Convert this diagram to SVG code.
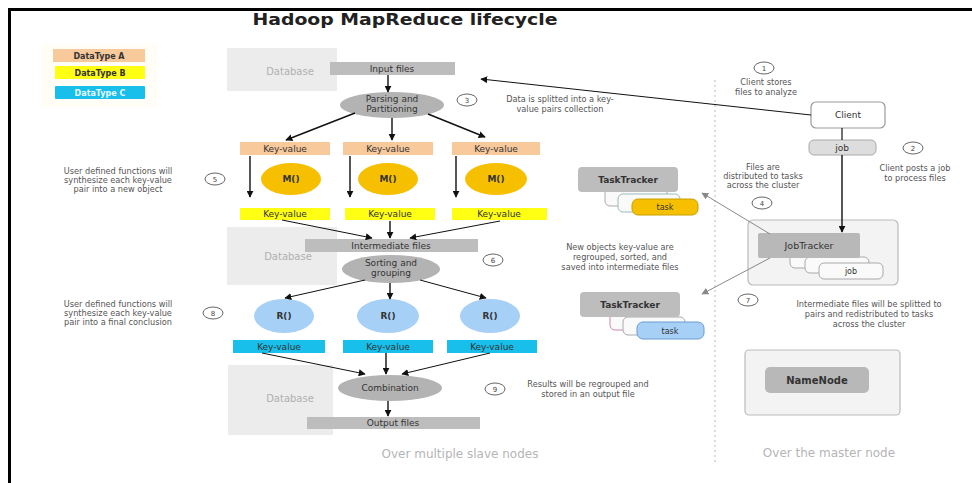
<svg xmlns="http://www.w3.org/2000/svg" width="972" height="483" viewBox="0 0 972 483">
<defs>
<marker id="ah" viewBox="0 0 10 10" refX="9" refY="5" markerWidth="7" markerHeight="7" markerUnits="userSpaceOnUse" orient="auto"><path d="M0,0 L10,5 L0,10 z" fill="#111"/></marker>
<marker id="ahg" viewBox="0 0 10 10" refX="9" refY="5" markerWidth="7" markerHeight="7" markerUnits="userSpaceOnUse" orient="auto"><path d="M0,0 L10,5 L0,10 z" fill="#888"/></marker>
</defs>
<style>
text{font-family:"DejaVu Sans","Liberation Sans",sans-serif;font-size:9px;fill:#333;text-anchor:middle}
.t{font-size:8.2px;fill:#555}
.n{font-size:7px;fill:#444}
.db{fill:#ececec}
.dbt{fill:#b0b0b0;font-size:10px}
.bar{fill:#bdbdbd}
.ell{fill:#b3b3b3}
.pk{fill:#f7c99b}
.yl{fill:#ffff14}
.cy{fill:#18bfea}
.m{fill:#f6c000}
.r{fill:#a7d0f7}
.b{font-weight:bold}
.num{fill:none;stroke:#666;stroke-width:1}
.ln{stroke:#111;stroke-width:1.4;fill:none;marker-end:url(#ah)}
.lt{stroke:#111;stroke-width:1;fill:none;marker-end:url(#ah)}
.lg{stroke:#888;stroke-width:1;fill:none;marker-end:url(#ahg)}
.card{fill:#fafafa;stroke:#aaa;stroke-width:1}
.note{fill:#b5b5b5;font-size:12px}
</style>
<rect width="972" height="483" fill="#fff"/>
<path d="M9.5,483 V9.5 H972" fill="none" stroke="#000" stroke-width="3"/>
<text x="405" y="25" style="font-weight:bold;font-size:16px;fill:#222" textLength="305" lengthAdjust="spacingAndGlyphs">Hadoop MapReduce lifecycle</text>

<g id="legend">
<rect x="42" y="44" width="115" height="63" fill="#fffdf6"/>
<rect x="53" y="49" width="92" height="13" class="pk"/><text x="99" y="58.5" class="b" style="font-size:8px">DataType A</text>
<rect x="55" y="66" width="90" height="13" class="yl"/><text x="100" y="75.5" class="b" style="font-size:8px">DataType B</text>
<rect x="55" y="86" width="90" height="13" class="cy" rx="1"/><text x="100" y="95.5" class="b" style="font-size:8px;fill:#e8f8ff">DataType C</text>
</g>

<g id="db1"><rect x="227" y="48" width="110" height="43" class="db"/><text x="290" y="75" class="dbt">Database</text></g>
<g id="db2"><rect x="227" y="227" width="110" height="58" class="db"/><text x="288" y="260" class="dbt">Database</text></g>
<g id="db3"><rect x="228" y="365" width="105" height="70" class="db"/><text x="290" y="402" class="dbt">Database</text></g>

<g id="input"><rect x="330" y="62" width="125" height="13" class="bar"/><text x="392" y="71.5">Input files</text></g>
<g id="parsing"><ellipse cx="392" cy="105" rx="52" ry="13" class="ell"/><text x="392" y="102">Parsing and</text><text x="392" y="112">Partitioning</text></g>

<g id="kvA1"><rect x="240" y="142" width="90" height="13" class="pk"/><text x="285" y="151.5">Key-value</text></g>
<g id="kvA2"><rect x="343" y="142" width="90" height="13" class="pk"/><text x="388" y="151.5">Key-value</text></g>
<g id="kvA3"><rect x="452" y="142" width="88" height="13" class="pk"/><text x="496" y="151.5">Key-value</text></g>

<g id="m1"><ellipse cx="291" cy="179" rx="30" ry="16" class="m"/><text x="291" y="182" class="b">M()</text></g>
<g id="m2"><ellipse cx="388" cy="179" rx="30" ry="16" class="m"/><text x="388" y="182" class="b">M()</text></g>
<g id="m3"><ellipse cx="496" cy="179" rx="31" ry="16" class="m"/><text x="496" y="182" class="b">M()</text></g>

<g id="kvB1"><rect x="240" y="208" width="90" height="12" class="yl"/><text x="285" y="217">Key-value</text></g>
<g id="kvB2"><rect x="345" y="208" width="90" height="12" class="yl"/><text x="390" y="217">Key-value</text></g>
<g id="kvB3"><rect x="452" y="208" width="95" height="12" class="yl"/><text x="499" y="217">Key-value</text></g>

<g id="intermediate"><rect x="305" y="239" width="173" height="13" class="bar"/><text x="391" y="248.5">Intermediate files</text></g>
<g id="sorting"><ellipse cx="391" cy="269" rx="49" ry="14" class="ell"/><text x="391" y="266">Sorting and</text><text x="391" y="276">grouping</text></g>

<g id="r1"><ellipse cx="284" cy="316" rx="30" ry="17" class="r"/><text x="284" y="319" class="b">R()</text></g>
<g id="r2"><ellipse cx="388" cy="316" rx="31" ry="17" class="r"/><text x="388" y="319" class="b">R()</text></g>
<g id="r3"><ellipse cx="490" cy="316" rx="30" ry="17" class="r"/><text x="490" y="319" class="b">R()</text></g>

<g id="kvC1"><rect x="233" y="340" width="92" height="13" class="cy"/><text x="279" y="349.5">Key-value</text></g>
<g id="kvC2"><rect x="343" y="340" width="90" height="13" class="cy"/><text x="388" y="349.5">Key-value</text></g>
<g id="kvC3"><rect x="447" y="340" width="90" height="13" class="cy"/><text x="492" y="349.5">Key-value</text></g>

<g id="combination"><ellipse cx="390" cy="388" rx="52" ry="13" class="ell"/><text x="390" y="391">Combination</text></g>
<g id="output"><rect x="307" y="417" width="173" height="12" class="bar"/><text x="393" y="426">Output files</text></g>

<g id="step3"><ellipse cx="467" cy="100" rx="10" ry="6" class="num"/><text x="467" y="102.5" class="n">3</text><text x="560" y="102" class="t">Data is splitted into a key-</text><text x="560" y="112" class="t">value pairs collection</text></g>
<g id="step5"><ellipse cx="215" cy="179" rx="10" ry="6" class="num"/><text x="215" y="181.5" class="n">5</text><text x="118" y="174" class="t">User defined functions will</text><text x="118" y="183" class="t">synthesize each key-value</text><text x="118" y="192" class="t">pair into a new object</text></g>
<g id="step6"><ellipse cx="493" cy="260" rx="10" ry="6" class="num"/><text x="493" y="262.5" class="n">6</text><text x="620" y="250" class="t">New objects key-value are</text><text x="620" y="260" class="t">regrouped, sorted, and</text><text x="620" y="270" class="t">saved into intermediate files</text></g>
<g id="step8"><ellipse cx="213" cy="313" rx="10" ry="6" class="num"/><text x="213" y="315.5" class="n">8</text><text x="118" y="307" class="t">User defined functions will</text><text x="118" y="316" class="t">synthesize each key-value</text><text x="118" y="325" class="t">pair into a final conclusion</text></g>
<g id="step9"><ellipse cx="495" cy="389" rx="10" ry="6" class="num"/><text x="495" y="391.5" class="n">9</text><text x="588" y="387" class="t">Results will be regrouped and</text><text x="588" y="397" class="t">stored in an output file</text></g>

<line x1="715" y1="80" x2="715" y2="462" stroke="#bbb" stroke-width="1" stroke-dasharray="2,3"/>

<g id="step1"><ellipse cx="764" cy="68" rx="10" ry="6" class="num"/><text x="764" y="70.5" class="n">1</text><text x="766" y="85" class="t">Client stores</text><text x="766" y="95" class="t">files to analyze</text></g>
<g id="client"><rect x="811" y="102" width="74" height="26" rx="5" fill="#fff" stroke="#999" stroke-width="1.2"/><text x="848" y="118">Client</text></g>
<g id="job"><rect x="809" y="140" width="67" height="15" rx="5" fill="#ddd" stroke="#aaa"/><text x="842" y="150.5">job</text></g>
<g id="step2"><ellipse cx="913" cy="148" rx="10" ry="6" class="num"/><text x="913" y="150.5" class="n">2</text><text x="915" y="171" class="t">Client posts a job</text><text x="915" y="181" class="t">to process files</text></g>
<g id="step4"><ellipse cx="762" cy="203" rx="10" ry="6" class="num"/><text x="762" y="205.5" class="n">4</text><text x="763" y="170" class="t">Files are</text><text x="763" y="179" class="t">distributed to tasks</text><text x="763" y="188" class="t">across the cluster</text></g>

<g id="jobtracker">
<rect x="748" y="220" width="150" height="65" rx="5" fill="#f3f3f3" stroke="#bbb" stroke-width="1.2"/>
<rect x="790" y="252" width="64" height="16" rx="5" class="card"/>
<rect x="805" y="257" width="64" height="16" rx="5" class="card"/>
<rect x="819" y="263" width="64" height="16" rx="5" class="card"/><text x="851" y="274" style="font-size:8px">job</text>
<rect x="758" y="233" width="102" height="25" rx="2" fill="#b8b8b8"/><text x="809" y="248.5" style="font-size:9.5px">JobTracker</text>
</g>

<g id="tasktracker1">
<rect x="605" y="188" width="62" height="18" rx="5" class="card"/>
<rect x="618" y="194" width="62" height="18" rx="5" class="card" style="stroke:#9bb"/>
<rect x="632" y="199" width="66" height="16" rx="6" fill="#f6c000" stroke="#c9a000"/><text x="665" y="210" style="font-size:8px">task</text>
<rect x="578" y="167" width="100" height="25" rx="4" fill="#bdbdbd"/><text x="628" y="182.5" class="b">TaskTracker</text>
</g>
<g id="tasktracker2">
<rect x="610" y="312" width="62" height="18" rx="5" class="card" style="stroke:#c8a"/>
<rect x="623" y="317" width="62" height="18" rx="5" class="card"/>
<rect x="637" y="322" width="67" height="17" rx="6" fill="#a7d0f7" stroke="#6b9dd0"/><text x="670" y="333.5" style="font-size:8px">task</text>
<rect x="580" y="292" width="100" height="25" rx="4" fill="#bdbdbd"/><text x="630" y="307.5" class="b">TaskTracker</text>
</g>

<g id="step7"><ellipse cx="748" cy="300" rx="10" ry="6" class="num"/><text x="748" y="302.5" class="n">7</text><text x="869" y="307" class="t">Intermediate files will be splitted to</text><text x="869" y="317" class="t">pairs and redistributed to tasks</text><text x="869" y="327" class="t">across the cluster</text></g>

<g id="namenode"><rect x="745" y="350" width="155" height="65" rx="4" fill="#f3f3f3" stroke="#bbb" stroke-width="1.2"/><rect x="765" y="367" width="104" height="26" rx="5" fill="#b8b8b8"/><text x="817" y="383.5" class="b" style="font-size:10px">NameNode</text></g>

<text x="460" y="458" class="note">Over multiple slave nodes</text>
<text x="829" y="457" class="note">Over the master node</text>

<g id="connectors">
<line x1="388" y1="75" x2="388" y2="92" class="ln"/>
<line x1="355" y1="113" x2="286" y2="140" class="ln"/>
<line x1="392" y1="118" x2="392" y2="140" class="ln"/>
<line x1="428" y1="114" x2="485" y2="137" class="ln"/>
<line x1="250" y1="156" x2="250" y2="197" class="ln"/>
<line x1="350" y1="156" x2="350" y2="197" class="ln"/>
<line x1="456" y1="156" x2="456" y2="197" class="ln"/>
<line x1="282" y1="220" x2="372" y2="238" class="lt"/>
<line x1="390" y1="221" x2="390" y2="238" class="ln"/>
<line x1="500" y1="221" x2="410" y2="238" class="lt"/>
<line x1="365" y1="280" x2="285" y2="298" class="lt"/>
<line x1="390" y1="283" x2="390" y2="299" class="ln"/>
<line x1="420" y1="280" x2="486" y2="298" class="lt"/>
<line x1="262" y1="353" x2="365" y2="374" class="lt"/>
<line x1="386" y1="353" x2="386" y2="374" class="ln"/>
<line x1="490" y1="353" x2="402" y2="374" class="lt"/>
<line x1="388" y1="401" x2="388" y2="416" class="ln"/>
<line x1="811" y1="115" x2="481" y2="79" class="lt"/>
<line x1="842" y1="128" x2="842" y2="140" stroke="#111" stroke-width="1.2"/>
<line x1="842" y1="155" x2="842" y2="232" class="ln"/>
<line x1="770" y1="234" x2="702" y2="193" class="lg"/>
<line x1="770" y1="258" x2="702" y2="294" class="lg"/>
</g>
</svg>
